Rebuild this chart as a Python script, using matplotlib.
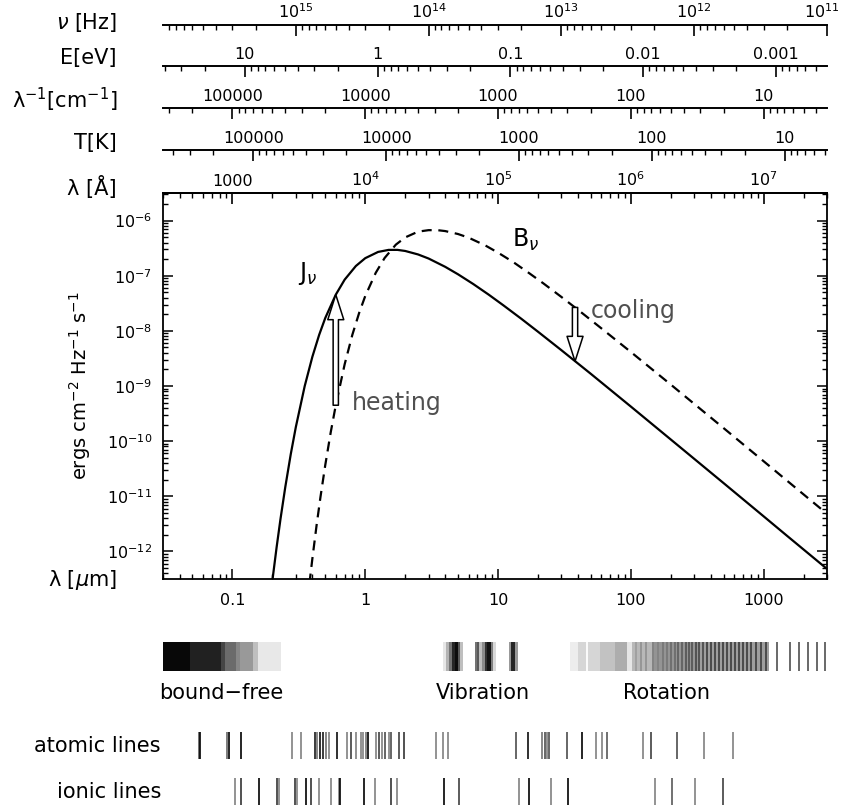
import numpy as np
import matplotlib
matplotlib.use("Agg")
import matplotlib.pyplot as plt
import matplotlib.transforms as mtransforms
from matplotlib.ticker import LogLocator, NullFormatter

plt.rcParams['font.family'] = ['DejaVu Sans']
plt.rcParams['mathtext.fontset'] = 'dejavusans'

# wavelength range (micron) and flux range of the main panel
lam_min, lam_max = 0.03, 3000.0
flux_min, flux_max = 10**-12.5, 10**-5.5

# mean intensity J_nu (solid) and Planck function B_nu (dashed)
j_um = [0.19, 0.2, 0.215, 0.23, 0.25, 0.275, 0.3, 0.35, 0.4, 0.45, 0.5, 0.6,
        0.7, 0.85, 1.0, 1.25, 1.5, 1.75, 2.0, 2.5, 3, 4, 5, 6.5, 8.5, 11, 15,
        20, 30, 50, 100, 250, 500, 1000, 1500, 3000]
j_val = [1.05e-13, 2.99e-13, 1.18e-12, 3.86e-12, 1.47e-11, 5.83e-11, 1.79e-10,
         9.93e-10, 3.40e-9, 8.49e-9, 1.71e-8, 4.53e-8, 8.49e-8, 1.50e-7,
         2.08e-7, 2.70e-7, 2.94e-7, 2.94e-7, 2.81e-7, 2.43e-7, 2.05e-7,
         1.45e-7, 1.06e-7, 7.08e-8, 4.54e-8, 2.89e-8, 1.65e-8, 9.64e-9,
         4.46e-9, 1.66e-9, 4.24e-10, 6.87e-11, 1.73e-11, 4.33e-12, 1.92e-12,
         4.82e-13]

b_um = [0.38, 0.40, 0.43, 0.46, 0.5, 0.55, 0.6, 0.7, 0.8, 0.9, 1.0, 1.2, 1.4,
        1.7, 2.0, 2.5, 3.0, 3.5, 4.0, 5.0, 6.0, 8.0, 10, 13, 17, 22, 30, 40,
        60, 100, 200, 500, 1000, 2000, 3000]
b_val = [2.62e-13, 7.46e-13, 2.96e-12, 9.66e-12, 3.68e-11, 1.46e-10, 4.48e-10,
         2.48e-9, 8.51e-9, 2.12e-8, 4.28e-8, 1.13e-7, 2.10e-7, 3.66e-7,
         4.95e-7, 6.30e-7, 6.70e-7, 6.70e-7, 6.45e-7, 5.70e-7, 4.90e-7,
         3.55e-7, 2.62e-7, 1.77e-7, 1.13e-7, 7.23e-8, 4.12e-8, 2.41e-8,
         1.11e-8, 4.14e-9, 1.06e-9, 1.72e-10, 4.32e-11, 1.08e-11, 4.81e-12]

# heating / cooling arrows: wavelength, start, end
heat_arrow = (0.6, 4.48e-10, 4.53e-8)
cool_arrow = (38.0, 2.66e-8, 2.8e-9)

# bottom / left tick labels of the main panel
um_ticks = [0.1, 1, 10, 100, 1000]
um_labels = ['0.1', '1', '10', '100', '1000']
flux_ticks = [1e-6, 1e-7, 1e-8, 1e-9, 1e-10, 1e-11, 1e-12]
flux_labels = [r'$10^{-6}$', r'$10^{-7}$', r'$10^{-8}$', r'$10^{-9}$',
               r'$10^{-10}$', r'$10^{-11}$', r'$10^{-12}$']

# equivalent scales on top
nu_ticks = [1e15, 1e14, 1e13, 1e12, 1e11]
nu_labels = [r'$10^{15}$', r'$10^{14}$', r'$10^{13}$', r'$10^{12}$', r'$10^{11}$']
ev_ticks = [10, 1, 0.1, 0.01, 0.001]
ev_labels = ['10', '1', '0.1', '0.01', '0.001']
wn_ticks = [1e5, 1e4, 1e3, 100, 10]
wn_labels = ['100000', '10000', '1000', '100', '10']
temp_ticks = [1e5, 1e4, 1e3, 100, 10]
temp_labels = ['100000', '10000', '1000', '100', '10']
ang_ticks = [1e3, 1e4, 1e5, 1e6, 1e7]
ang_labels = ['1000', r'$10^4$', r'$10^5$', r'$10^6$', r'$10^7$']

C_UM = 2.998e14      # speed of light, micron/s
HC_EV = 1.23984      # eV micron
HC_K = 14388.0       # micron K

# bound-free absorption edges (micron) and shade of each step
bf_edges = [0.03, 0.048, 0.0815, 0.088, 0.106, 0.114, 0.143, 0.156, 0.232]
bf_gray = [0.03, 0.13, 0.27, 0.42, 0.53, 0.6, 0.75, 0.91]

# vibrational bands
vib_edges = [3.85, 4.06, 4.27, 4.50, 4.74, 4.99, 5.17, 5.45, 6.70, 6.94, 7.19,
             7.57, 7.98, 8.26, 8.85, 9.16, 9.66, 12.1, 12.5, 13.4, 14.1]
vib_gray = [0.9, 0.7, 0.45, 0.15, 0.05, 0.35, 0.75, 1.0, 0.45, 0.35, 0.75,
            0.55, 0.2, 0.08, 0.5, 0.85, 1.0, 0.6, 0.15, 0.6]

# rotational band: background shading plus individual lines
rot_edges = [34.8, 40.0, 45.7, 47.3, 58.6, 76.0, 93.0, 101.4, 144, 332, 1094,
             3000]
rot_gray = [0.93, 0.84, 0.98, 0.84, 0.76, 0.68, 0.9, 0.72, 0.58, 0.62, 1.0]
rot_lines_um = [109, 119, 130, 147, 160, 175, 187, 200, 215, 226, 243, 260,
                274, 289, 310, 326, 349, 374, 402, 430, 461, 494, 530, 568,
                608, 652, 698, 750, 803, 875, 955, 1042, 1259, 1578, 1845,
                2158, 2523, 2897]
rot_lines_gray = [0.6, 0.55, 0.55, 0.5, 0.5, 0.45, 0.45, 0.4, 0.4, 0.35,
                  0.35, 0.3, 0.3, 0.3, 0.25, 0.25, 0.25, 0.2, 0.2, 0.2,
                  0.2, 0.2, 0.2, 0.2, 0.2, 0.2, 0.2, 0.2, 0.2, 0.2, 0.2, 0.2,
                  0.25, 0.25, 0.25, 0.25, 0.25, 0.25]

# atomic and ionic line positions (micron) and darkness
atomic_um = [0.0557, 0.0573, 0.0906, 0.0938, 0.116, 0.282, 0.330, 0.416,
             0.430, 0.456, 0.478, 0.506, 0.536, 0.612, 0.733, 0.782, 0.847,
             0.933, 0.966, 1.007, 1.043, 1.211, 1.262, 1.337, 1.401, 1.502,
             1.555, 1.795, 1.958, 3.39, 3.83, 4.22, 13.6, 16.7, 21.3, 22.7,
             23.5, 24.3, 32.9, 42.7, 54.3, 60.3, 65.8, 124, 141, 222, 356, 585]
atomic_gray = [0.35, 0.0, 0.4, 0.0, 0.0, 0.5, 0.5, 0.1, 0.45, 0.05, 0.1, 0.45,
               0.5, 0.05, 0.5, 0.25, 0.5, 0.5, 0.5, 0.45, 0.0, 0.5, 0.25, 0.5,
               0.3, 0.5, 0.3, 0.25, 0.2, 0.5, 0.5, 0.5, 0.3, 0.05, 0.45, 0.3,
               0.5, 0.3, 0.3, 0.0, 0.5, 0.5, 0.35, 0.5, 0.25, 0.3, 0.5, 0.5]
ionic_um = [0.1045, 0.116, 0.158, 0.215, 0.223, 0.294, 0.308, 0.358, 0.388,
            0.449, 0.550, 0.631, 0.646, 0.980, 1.191, 1.555, 1.726, 3.94, 5.11,
            14.4, 17.2, 24.9, 33.8, 152, 205, 303, 492]
ionic_gray = [0.5, 0.2, 0.0, 0.2, 0.5, 0.2, 0.5, 0.0, 0.2, 0.5, 0.5, 0.5, 0.0,
              0.0, 0.5, 0.2, 0.5, 0.0, 0.25, 0.5, 0.0, 0.5, 0.0, 0.5, 0.35,
              0.5, 0.25]

# ---- layout (pixels) ----
W_PX, H_PX, DPI = 843, 806, 100
X0, X1 = 163, 827
LAB_X = 117


def fx(px):
    return px / W_PX


def fy(py):
    return 1 - py / H_PX


def strip_axes(top, bottom):
    a = fig.add_axes([fx(X0), fy(bottom), (X1 - X0) / W_PX, (bottom - top) / H_PX])
    a.set_xscale('log')
    a.set_xlim(lam_min, lam_max)
    a.set_ylim(0, 1)
    a.axis('off')
    return a


def scale_row(y_px, label, conv, ticks, labels, label_y):
    a = fig.add_axes([fx(X0), fy(y_px), (X1 - X0) / W_PX, 1e-4])
    a.patch.set_visible(False)
    a.set_xscale('log')
    a.set_xlim(conv(lam_min), conv(lam_max))
    for s in ('left', 'right', 'bottom'):
        a.spines[s].set_visible(False)
    a.spines['top'].set_linewidth(1.4)
    a.yaxis.set_visible(False)
    a.xaxis.set_ticks_position('top')
    a.set_xticks(ticks, labels=labels)
    a.xaxis.set_minor_locator(LogLocator(base=10, subs=np.arange(2, 10), numticks=50))
    a.xaxis.set_minor_formatter(NullFormatter())
    a.tick_params(axis='x', which='both', direction='in', top=True,
                  bottom=False, labeltop=True, labelbottom=False,
                  labelsize=11.5, pad=3)
    a.tick_params(axis='x', which='major', length=8, width=1.2)
    a.tick_params(axis='x', which='minor', length=3.8, width=1.0)
    fig.text(fx(LAB_X), fy(label_y), label, ha='right', va='center', fontsize=15)
    return a


fig = plt.figure(figsize=(W_PX / DPI, H_PX / DPI), dpi=DPI)

# --- main panel ---
ax = fig.add_axes([fx(X0), fy(579), (X1 - X0) / W_PX, (579 - 193) / H_PX])
ax.plot(j_um, j_val, color='black', lw=1.6, solid_capstyle='butt')
ax.plot(b_um, b_val, color='black', lw=1.6, ls=(0, (4.5, 3)))
ax.set_xscale('log')
ax.set_yscale('log')
ax.set_xlim(lam_min, lam_max)
ax.set_ylim(flux_min, flux_max)
ax.set_xticks(um_ticks, labels=um_labels)
ax.set_yticks(flux_ticks, labels=flux_labels)
ax.xaxis.set_minor_locator(LogLocator(base=10, subs=np.arange(2, 10), numticks=50))
ax.yaxis.set_minor_locator(LogLocator(base=10, subs=np.arange(2, 10), numticks=50))
ax.xaxis.set_minor_formatter(NullFormatter())
ax.yaxis.set_minor_formatter(NullFormatter())
ax.tick_params(which='both', direction='in', top=False, right=True,
               labelsize=11.5)
ax.tick_params(which='major', length=7.5, width=1.1)
ax.tick_params(which='minor', length=3.8, width=1.0)
ax.tick_params(axis='x', pad=10)
ax.tick_params(axis='y', pad=8)
for s in ax.spines.values():
    s.set_linewidth(1.3)

arrow_style = 'simple,head_length=1.8,head_width=1.15,tail_width=0.38'
for xa, y_from, y_to in (heat_arrow, cool_arrow):
    ax.annotate('', xy=(xa, y_to), xytext=(xa, y_from),
                arrowprops=dict(arrowstyle=arrow_style, mutation_scale=10,
                                fc='white', ec='black', lw=1.1,
                                shrinkA=0, shrinkB=0))

ax.text(0.31, 8.2e-8, r'J$_\nu$', fontsize=17, va='baseline')
ax.text(12.7, 3.3e-7, r'B$_\nu$', fontsize=17, va='baseline')
ax.text(0.79, 3.66e-10, 'heating', fontsize=17, va='baseline', color='#505050')
ax.text(50, 1.74e-8, 'cooling', fontsize=17, va='baseline', color='#505050')

fig.text(fx(80), fy(386), r'ergs cm$^{-2}$ Hz$^{-1}$ s$^{-1}$', rotation=90,
         ha='center', va='center', fontsize=14)
fig.text(fx(LAB_X), fy(580), r'λ [$\mu$m]', ha='right', va='center', fontsize=15)

# --- equivalent scales ---
nu_ax = scale_row(25, r'$\nu$ [Hz]', lambda l: C_UM / l, nu_ticks, nu_labels, 22)
scale_row(66, 'E[eV]', lambda l: HC_EV / l, ev_ticks, ev_labels, 58)
scale_row(108, r'λ$^{-1}$[cm$^{-1}$]', lambda l: 1e4 / l, wn_ticks, wn_labels, 100)
scale_row(150, 'T[K]', lambda l: HC_K / l, temp_ticks, temp_labels, 143)
scale_row(193, 'λ [Å]', lambda l: l * 1e4, ang_ticks, ang_labels, 188)

# the last frequency label sits on the right edge; nudge it inwards
fig.canvas.draw()
last = nu_ax.xaxis.get_major_ticks()[-1].label2
last.set_transform(last.get_transform() +
                   mtransforms.ScaledTranslation(-4 / 72, 0, fig.dpi_scale_trans))

# --- molecular / continuum bands ---
bands = strip_axes(642, 671)
for edges, grays in ((bf_edges, bf_gray), (vib_edges, vib_gray), (rot_edges, rot_gray)):
    for x0, x1, g in zip(edges[:-1], edges[1:], grays):
        bands.axvspan(x0, x1, color=str(g), lw=0)
for xl, g in zip(rot_lines_um, rot_lines_gray):
    bands.axvline(xl, color=str(g), lw=1.1)

for xt, txt in ((0.082, 'bound−free'), (7.7, 'Vibration'), (187, 'Rotation')):
    bands.text(xt, -0.75, txt, ha='center', va='center', fontsize=15)

# --- line lists ---
atom_ax = strip_axes(732, 759)
for xl, g in zip(atomic_um, atomic_gray):
    atom_ax.axvline(xl, color=str(g), lw=1.2)
fig.text(fx(161), fy(746), 'atomic lines', ha='right', va='center', fontsize=15)

ion_ax = strip_axes(778, 805)
for xl, g in zip(ionic_um, ionic_gray):
    ion_ax.axvline(xl, color=str(g), lw=1.2)
fig.text(fx(161), fy(792), 'ionic lines', ha='right', va='center', fontsize=15)

fig.savefig('out.png', dpi=DPI)
